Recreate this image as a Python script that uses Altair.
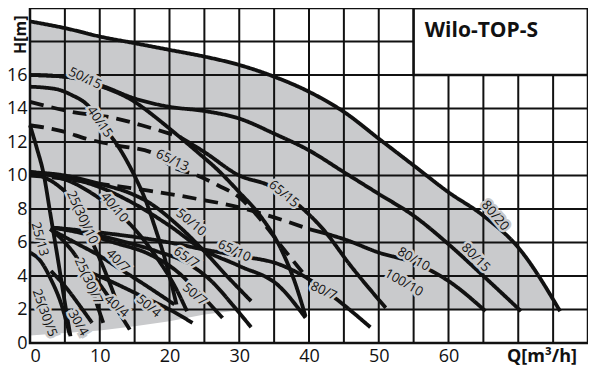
import altair as alt
import pandas as pd

# ---------------- data ----------------
grid_q = [0, 5, 10, 15, 20, 25, 30, 35, 40, 45, 50, 55, 60, 65, 70, 75, 80]
grid_h = [0, 2, 4, 6, 8, 10, 12, 14, 16, 18, 20]
x_tick_labels = [0, 10, 20, 30, 40, 50, 60]
y_tick_labels = [0, 2, 4, 6, 8, 10, 12, 14, 16]

# envelope (grey field): top = 80/20 curve, bottom edge
env_q = [0, 5, 10, 15, 20, 25, 30, 35, 40, 45, 50, 55, 60, 65, 70, 76]
env_top = [19.2, 18.8, 18.3, 17.9, 17.5, 17.1, 16.6, 15.9, 15.0, 13.8, 12.2, 10.6, 9.0, 7.6, 5.7, 1.9]
env_bottom = [0.45, 0.6, 0.75, 1.0, 1.3, 1.7, 1.95, 1.95, 1.95, 1.95, 1.95, 1.95, 1.95, 1.95, 1.95, 1.9]

# pump curves (Q m3/h, H m)
c80_20_q = [0, 5, 10, 15, 20, 25, 30, 35, 40, 45, 50, 55, 60, 65, 70, 76]
c80_20_h = [19.2, 18.8, 18.3, 17.9, 17.5, 17.1, 16.6, 15.9, 15.0, 13.8, 12.2, 10.6, 9.0, 7.6, 5.7, 1.9]
c80_15_q = [0, 5, 10, 15, 20, 25, 30, 35, 40, 45, 50, 55, 60, 65, 70.4]
c80_15_h = [16.0, 15.9, 15.4, 14.6, 14.1, 13.85, 13.4, 12.5, 11.5, 10.2, 8.9, 7.6, 5.9, 4.0, 1.9]
c50_15_q = [0, 5, 10, 15, 17, 20, 24, 27, 30, 33, 36, 38, 39.5]
c50_15_h = [16.0, 15.9, 15.35, 14.4, 13.8, 12.8, 11.4, 10.3, 9.0, 7.6, 5.6, 3.6, 1.6]
c40_15_q = [0, 2, 4.3, 6, 8, 10, 11, 13, 15.2, 16.5, 18, 19.5, 21]
c40_15_h = [15.3, 15.25, 15.1, 14.8, 14.3, 13.3, 12.7, 11.5, 9.8, 8.6, 6.8, 4.8, 2.3]
c65_15a_q = [0, 6, 12.4, 16, 20, 21.5]
c65_15a_h = [14.4, 13.8, 13.4, 13.0, 12.5, 12.3]
c65_15_q = [21.5, 25, 30, 34.3, 38.6, 42, 46, 51]
c65_15_h = [12.3, 11.4, 10.0, 9.4, 8.2, 6.8, 4.6, 2.1]
c65_13_q = [0, 5, 8, 12.4, 17.6, 20.5, 24, 27, 30, 33, 36, 39.5]
c65_13_h = [13.0, 12.6, 12.2, 11.8, 11.35, 10.5, 10.0, 9.4, 8.7, 7.4, 5.8, 4.0]
c80_10a_q = [0, 5, 10, 17, 24, 30, 35, 40]
c80_10a_h = [10.0, 9.8, 9.5, 9.1, 8.6, 8.1, 7.5, 6.8]
c80_10_q = [40, 45, 50, 55, 60, 65.3]
c80_10_h = [6.8, 6.2, 5.4, 4.8, 3.7, 1.9]
c25_13_q = [0, 1, 1.9, 3, 4, 5, 5.8]
c25_13_h = [13.0, 11.6, 10.2, 7.5, 5.0, 2.4, 0.4]
c25_5_q = [0, 1.5, 3, 4.5, 5.7]
c25_5_h = [5.4, 4.9, 3.8, 2.3, 0.5]
c25_10_q = [0, 2, 4, 5.3, 7, 9.6, 11.5, 13]
c25_10_h = [10.2, 9.9, 9.4, 8.9, 7.6, 5.4, 3.5, 1.8]
c40_10_q = [0, 3, 6, 9, 12, 15, 18, 21, 22.5]
c40_10_h = [10.2, 10.0, 9.6, 8.9, 8.0, 6.8, 5.2, 3.2, 1.9]
c50_10_q = [0, 5, 10, 14, 17, 21, 24.7, 28, 31.7]
c50_10_h = [10.2, 10.0, 9.5, 9.0, 8.4, 7.1, 5.6, 4.1, 2.5]
c65_10_q = [0, 5, 10, 15, 20, 24.7, 30, 35.7, 39.5]
c65_10_h = [10.2, 9.9, 9.3, 8.3, 7.0, 5.6, 4.6, 3.4, 1.5]
c80_7_q = [3, 10, 20, 24.7, 30, 35.7, 40.4, 44, 48.8]
c80_7_h = [6.9, 6.6, 6.0, 5.6, 5.2, 4.7, 3.7, 2.6, 0.94]
c65_7_q = [3, 8, 13, 18, 22.4, 26, 29, 31.7]
c65_7_h = [6.9, 6.6, 6.1, 5.5, 4.8, 3.7, 2.3, 0.94]
c50_7_q = [3, 8, 12, 17.1, 21, 24, 27.6]
c50_7_h = [6.9, 6.5, 6.0, 5.3, 4.3, 3.1, 1.5]
c40_7_q = [2.9, 6.9, 10, 12.6, 16, 20.7]
c40_7_h = [6.8, 5.9, 5.2, 4.5, 3.6, 2.3]
c25_7_q = [2.9, 5, 7, 8.6, 9.6, 10.5]
c25_7_h = [6.8, 6.0, 4.9, 3.5, 2.3, 1.2]
c30_4_q = [3, 5, 7, 8.9]
c30_4_h = [4.3, 3.4, 2.3, 1.2]
c40_4_q = [8.1, 10, 12, 14.3]
c40_4_h = [4.5, 3.5, 2.3, 0.8]
c50_4_q = [7.6, 12, 16, 20, 23.3]
c50_4_h = [4.4, 3.6, 2.8, 2.0, 1.2]

curves = [
    ("80/20", c80_20_q, c80_20_h, "solid"),
    ("80/15", c80_15_q, c80_15_h, "solid"),
    ("50/15", c50_15_q, c50_15_h, "solid"),
    ("40/15", c40_15_q, c40_15_h, "solid"),
    ("65/15a", c65_15a_q, c65_15a_h, "dash"),
    ("65/15", c65_15_q, c65_15_h, "solid"),
    ("65/13", c65_13_q, c65_13_h, "dash"),
    ("80/10a", c80_10a_q, c80_10a_h, "dash"),
    ("80/10", c80_10_q, c80_10_h, "solid"),
    ("25/13", c25_13_q, c25_13_h, "solid"),
    ("25/5", c25_5_q, c25_5_h, "solid"),
    ("25/10", c25_10_q, c25_10_h, "solid"),
    ("40/10", c40_10_q, c40_10_h, "solid"),
    ("50/10", c50_10_q, c50_10_h, "solid"),
    ("65/10", c65_10_q, c65_10_h, "solid"),
    ("80/7", c80_7_q, c80_7_h, "solid"),
    ("65/7", c65_7_q, c65_7_h, "solid"),
    ("50/7", c50_7_q, c50_7_h, "solid"),
    ("40/7", c40_7_q, c40_7_h, "solid"),
    ("25/7", c25_7_q, c25_7_h, "solid"),
    ("30/4", c30_4_q, c30_4_h, "solid"),
    ("40/4", c40_4_q, c40_4_h, "solid"),
    ("50/4", c50_4_q, c50_4_h, "solid"),
]

label_text = ["50/15", "40/15", "65/13", "65/15", "80/20", "80/15", "80/10", "100/10",
              "80/7", "50/10", "65/10", "65/7", "50/7", "40/10", "25(30)/10", "40/7",
              "25(30)/7", "25/13", "25(30)/5", "30/4", "40/4", "50/4"]
label_q = [7.9, 10.0, 20.4, 36.4, 66.7, 63.9, 55.0, 53.6,
           42.1, 23.1, 29.3, 22.4, 23.6, 12.1, 7.5, 12.6,
           8.4, 1.4, 2.1, 6.9, 12.4, 17.0]
label_h = [15.8, 13.2, 10.9, 8.9, 7.6, 5.1, 5.0, 3.6,
           3.1, 7.2, 5.5, 5.1, 2.9, 8.1, 7.5, 4.9,
           3.7, 6.2, 1.8, 1.2, 2.2, 2.2]
label_angle = [25, 55, 25, 40, 50, 45, 30, 30,
               25, 40, 25, 35, 40, 50, 65, 45,
               65, 75, 70, 60, 40, 40]

box_q = [55]
box_q2 = [80]
box_h = [16]
box_h2 = [20]

# ---------------- build tables ----------------
rows = []
for name, qs, hs, style in curves:
    for i, (q, h) in enumerate(zip(qs, hs)):
        rows.append({"curve": name, "q": q, "h": h, "i": i, "style": style})
curve_df = pd.DataFrame(rows)
env_df = pd.DataFrame({"q": env_q, "top": env_top, "bottom": env_bottom})
gq_df = pd.DataFrame({"q": grid_q})
gh_df = pd.DataFrame({"h": grid_h})
lab_df = pd.DataFrame({"t": label_text, "q": label_q, "h": label_h, "a": label_angle})
box_df = pd.DataFrame({"q": box_q, "q2": box_q2, "h": box_h, "h2": box_h2})

FONT = "Open Sans"
GREY = "#c9cacc"
xs = alt.Scale(domain=[0, 80], nice=False, zero=False)
ys = alt.Scale(domain=[0, 20], nice=False, zero=False)

x_axis = alt.Axis(values=x_tick_labels, grid=False, domain=False, ticks=False,
                  labelFontSize=18, labelFont=FONT, labelColor="#111", labelPadding=4, title=None)
y_axis = alt.Axis(values=y_tick_labels, grid=False, domain=False, ticks=False,
                  labelFontSize=18, labelFont=FONT, labelColor="#111", labelPadding=3, title=None)

area = alt.Chart(env_df).mark_area(color=GREY, opacity=1).encode(
    x=alt.X("q:Q", scale=xs, axis=x_axis),
    y=alt.Y("top:Q", scale=ys, axis=y_axis),
    y2="bottom:Q",
)

vgrid = alt.Chart(gq_df).mark_rule(color="#111", strokeWidth=2).encode(
    x=alt.X("q:Q", scale=xs), y=alt.value(0), y2=alt.value(335))
hgrid = alt.Chart(gh_df).mark_rule(color="#111", strokeWidth=2).encode(
    y=alt.Y("h:Q", scale=ys), x=alt.value(0), x2=alt.value(558))

box = alt.Chart(box_df).mark_rect(fill="white", stroke="#111", strokeWidth=2.5).encode(
    x=alt.X("q:Q", scale=xs), x2="q2:Q", y=alt.Y("h:Q", scale=ys), y2="h2:Q")

lines = alt.Chart(curve_df).mark_line(color="#111", strokeWidth=3.8, interpolate="monotone",
                                      strokeCap="butt").encode(
    x=alt.X("q:Q", scale=xs),
    y=alt.Y("h:Q", scale=ys),
    detail="curve:N",
    order="i:Q",
    strokeDash=alt.StrokeDash("style:N", scale=alt.Scale(domain=["solid", "dash"],
                                                          range=[[1, 0], [14, 8]]), legend=None),
)

halo = alt.Chart(lab_df).mark_text(font=FONT, fontSize=13, stroke=GREY, strokeWidth=5,
                                   fill=GREY, align="center", baseline="middle").encode(
    x=alt.X("q:Q", scale=xs), y=alt.Y("h:Q", scale=ys), text="t:N", angle=alt.Angle("a:Q", scale=None))
labels = alt.Chart(lab_df).mark_text(font=FONT, fontSize=13, color="#111", align="center",
                                     baseline="middle").encode(
    x=alt.X("q:Q", scale=xs), y=alt.Y("h:Q", scale=ys), text="t:N", angle=alt.Angle("a:Q", scale=None))

title_df = pd.DataFrame({"t": ["Wilo-TOP-S"], "q": [56.6], "h": [18.65]})
title = alt.Chart(title_df).mark_text(font=FONT, fontSize=21, fontWeight="bold", color="#111",
                                      align="left", baseline="middle").encode(
    x=alt.X("q:Q", scale=xs), y=alt.Y("h:Q", scale=ys), text="t:N")

ht_df = pd.DataFrame({"t": ["H[m]"], "q": [-1.3], "h": [18.4]})
htitle = alt.Chart(ht_df).mark_text(font=FONT, fontSize=16, fontWeight="bold", color="#111",
                                    align="center", baseline="middle", angle=270).encode(
    x=alt.X("q:Q", scale=xs), y=alt.Y("h:Q", scale=ys), text="t:N")
qt_df = pd.DataFrame({"t": ["Q[m³/h]"], "q": [73.4], "h": [-0.85]})
qtitle = alt.Chart(qt_df).mark_text(font=FONT, fontSize=18, fontWeight="bold", color="#111",
                                    align="center", baseline="middle").encode(
    x=alt.X("q:Q", scale=xs), y=alt.Y("h:Q", scale=ys), text="t:N")

border = alt.Chart(box_df).mark_rect(fill=None, stroke="#111", strokeWidth=2.5).encode(
    x=alt.value(0), x2=alt.value(558), y=alt.value(0), y2=alt.value(335))

chart = alt.layer(area, vgrid, hgrid, box, lines, halo, labels, title, htitle, qtitle, border).properties(
    width=558, height=335,
    autosize=alt.AutoSizeParams(type="none"),
    padding={"left": 22, "top": 0, "right": 0, "bottom": 28},
).configure_view(stroke=None).configure(background="white")

chart.save("out.html", embed_options={"renderer": "svg", "actions": False})
